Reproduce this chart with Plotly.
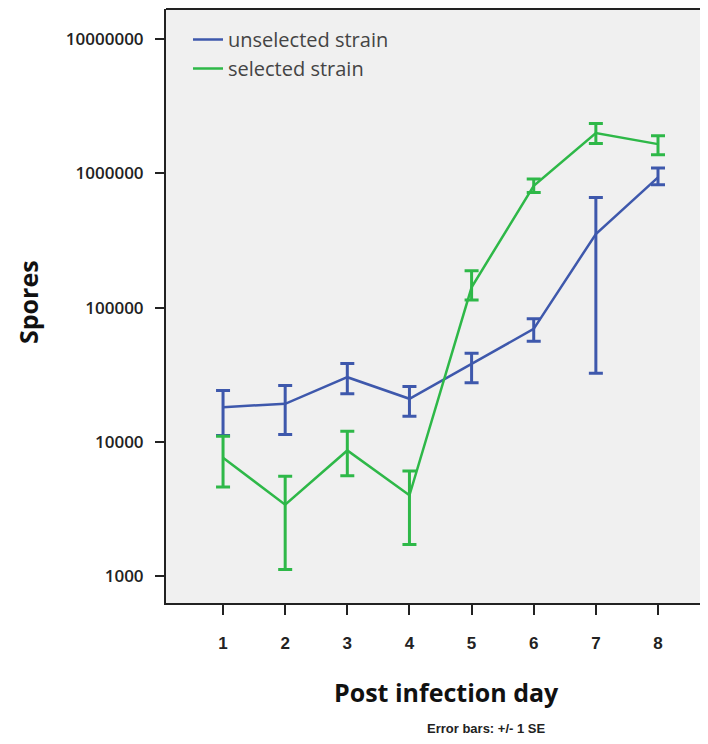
import plotly.graph_objects as go

# ── Data ──────────────────────────────────────────────────────────────────────

days = [1, 2, 3, 4, 5, 6, 7, 8]

unselected_mean = [18150, 19230, 30340, 20950, 38190, 69530, 354000, 934000]
unselected_upper = [24150, 26300, 38460, 25870, 45800, 82600, 662000, 1097000]
unselected_lower = [11170, 11370, 22840, 15560, 27550, 56200, 32500, 824000]

selected_mean = [7620, 3410, 8640, 4000, 141900, 809000, 1999000, 1654000]
selected_upper = [11040, 5540, 12030, 6060, 188800, 908000, 2355000, 1907000]
selected_lower = [4610, 1120, 5600, 1720, 114300, 722000, 1672000, 1378000]

y_tickvals = [1000, 10000, 100000, 1000000, 10000000]
y_ticktext = ["1000", "10000", "100000", "1000000", "10000000"]

BLUE = "#3E58AC"
GREEN = "#2EB848"

# the page body has an 8px margin on every side, so the figure sits at (8, 8)
OFF = 8
W, H = 708 - 2 * OFF, 744 - 2 * OFF
L, R, T, B = 166 - OFF, 0, 8 - OFF + 1, H - (603 - OFF)


def px_x(p):
    # window pixel -> paper x
    return (p - OFF - L) / (W - L - R)


def px_y(p):
    # window pixel -> paper y
    return (H - B - (p - OFF)) / (H - T - B)


def trace(name, mean, upper, lower, color):
    return go.Scatter(
        x=days, y=mean, name=name, mode="lines", line={"color": color, "width": 2.5},
        error_y={"type": "data", "symmetric": False,
                 "array": [u - m for u, m in zip(upper, mean)],
                 "arrayminus": [m - lo for m, lo in zip(mean, lower)],
                 "color": color, "thickness": 3, "width": 7},
    )


fig = go.Figure()
fig.add_trace(trace("unselected strain", unselected_mean, unselected_upper, unselected_lower, BLUE))
fig.add_trace(trace("selected strain", selected_mean, selected_upper, selected_lower, GREEN))

fig.update_layout(
    width=W, height=H, margin={"l": L, "r": R, "t": T, "b": B},
    paper_bgcolor="white", plot_bgcolor="#f0f0f0",
    showlegend=True,
    legend={"x": px_x(188), "y": px_y(20), "xanchor": "left", "yanchor": "top", "bgcolor": "rgba(0,0,0,0)",
            "font": {"family": "Open Sans", "size": 20, "color": "#444"}, "tracegroupgap": 0, "itemwidth": 30},
)
fig.update_xaxes(
    range=[0.082, 8.676], tickvals=days, ticks="outside", ticklen=10, tickwidth=2, tickcolor="#222",
    showgrid=False, zeroline=False, showline=True, linecolor="#222", linewidth=2, mirror=False,
    ticklabelstandoff=14, tickfont={"family": "Liberation Sans", "size": 17, "color": "#222", "weight": "bold"},
)
fig.update_yaxes(
    type="log", range=[2.80, 7.225], tickvals=y_tickvals, ticktext=y_ticktext,
    ticks="outside", ticklen=9, tickwidth=2, tickcolor="#222",
    showgrid=False, zeroline=False, showline=True, linecolor="#222", linewidth=2,
    ticklabelstandoff=8, tickfont={"family": "Open Sans", "size": 17, "color": "#222", "weight": 600},
)

# top frame line of the plot area
fig.add_shape(type="line", xref="paper", yref="paper", x0=0, x1=1, y0=1, y1=1,
              line={"color": "#222", "width": 2})

fig.add_annotation(text="Spores", x=px_x(28), y=px_y(302), xref="paper", yref="paper", textangle=-90,
                   xanchor="center", yanchor="middle", showarrow=False,
                   font={"family": "Open Sans", "size": 25, "color": "#111", "weight": "bold"})
fig.add_annotation(text="Post infection day", x=px_x(446), y=px_y(692), xref="paper", yref="paper",
                   xanchor="center", yanchor="middle", showarrow=False,
                   font={"family": "Open Sans", "size": 25, "color": "#111", "weight": "bold"})
fig.add_annotation(text="Error bars: +/- 1 SE", x=px_x(486), y=px_y(728), xref="paper", yref="paper",
                   xanchor="center", yanchor="middle", showarrow=False,
                   font={"family": "Liberation Sans", "size": 13, "color": "#222", "weight": "bold"})

fig.write_html("out.html")
